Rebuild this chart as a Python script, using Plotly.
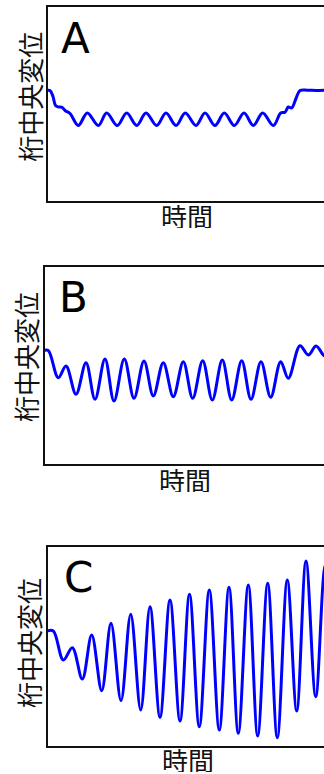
import plotly.graph_objects as go

# ---------------- data (time in arbitrary units, displacement in arbitrary units) ----------------
time_A = [0, 4, 7, 9.5, 12.5, 16, 19, 24,
          32.3, 41.3, 52.3, 60.7, 71.3, 80.7, 90.7, 100, 110.7, 120, 130, 139.3,
          150, 159, 169, 178.3, 188.3, 198, 207.3, 216.7, 227.3,
          234.7, 239, 242.3, 245.7, 250, 254, 262, 270, 280]
disp_A = [0, 0, -6, -15, -16.5, -16.8, -20, -23,
          -35, -22.5, -35, -22.5, -35, -22.5, -35, -22.5, -35, -22.5, -35, -22.5,
          -35, -22.5, -35, -22.5, -35, -22.5, -35, -22.5, -35,
          -22.5, -21.8, -16.5, -17.5, -8, 0, 0.3, 0, 0.3]

time_B = [0, 4.5, 14.5, 22.2, 32.2, 42.2, 51.2, 61.2, 70.2, 80.5, 90.2, 100.2,
          109.5, 119.5, 129.5, 139.5, 148.9, 158.9, 168.5, 178.5, 187.9, 197.9,
          207.2, 217.2, 226.9, 236.9, 244.5, 256.2, 264.5, 272.2, 279.5, 284]
disp_B = [0, 0, -27.2, -15.5, -43.8, -12.2, -48.8, -8.5, -50.5, -8.5, -47.8, -10.5,
          -45.5, -12.2, -46.2, -11.2, -47.8, -10.2, -49.5, -9.5, -49.5, -10.2,
          -48.8, -11.2, -46.8, -11.2, -27.8, 4.8, -4.5, 4.5, -4.5, -8]

time_C = [0, 6.3, 16.3, 25.3, 35.3, 44.7, 54.7, 64, 74, 83.7, 93.7, 103, 113, 123,
          133, 142.5, 152.3, 162.3, 172.3, 182, 191.3, 201.3, 210.7, 220.7, 230.3,
          240.3, 249.7, 259, 268.7, 278.5, 286]
disp_C = [0, 0, -29, -16.7, -48, -4, -59.7, 7.7, -69.7, 16.7, -79, 24.3, -86.3, 31,
          -90, 36.7, -95.7, 41, -99, 43.7, -102.3, 46, -105, 47.7, -106.7,
          51, -80, 70, -65.7, 66, 20]

panel_letters = ["A", "B", "C"]
y_label = "桁中央変位"
x_label = "時間"

# ---------------- layout geometry (pixels) ----------------
W, H = 324, 774
panels = [
    # frame line centres: left, top, bottom; data origin (x0, baseline y0)
    dict(left=46.5, top=5.5, bottom=202.0, x0=46.0, y0=90.5,
         letter=(75.5, 38.5), ylab=(29.2, 96.5), xlab=(186.5, 215.0)),
    dict(left=43.8, top=265.8, bottom=465.0, x0=43.8, y0=350.5,
         letter=(73.2, 297.3), ylab=(25.3, 356.7), xlab=(184.5, 479.0)),
    dict(left=47.0, top=545.5, bottom=746.5, x0=47.0, y0=631.0,
         letter=(78.2, 577.0), ylab=(28.7, 643.3), xlab=(187.8, 759.0)),
]
series = [(time_A, disp_A), (time_B, disp_B), (time_C, disp_C)]

LW = 2
fig = go.Figure()
annotations = []
for i, (p, (t, d), letter) in enumerate(zip(panels, series, panel_letters)):
    n = "" if i == 0 else str(i + 1)
    pl = p["left"] + LW / 2
    pt = p["top"] + LW / 2
    pb = p["bottom"] - LW / 2
    fig.add_trace(go.Scatter(x=t, y=d, mode="lines",
                             line=dict(color="#0000ff", width=3, shape="spline", smoothing=1.0),
                             xaxis="x" + n, yaxis="y" + n, showlegend=False,
                             hoverinfo="skip"))
    fig.layout["xaxis" + n] = dict(domain=[pl / W, 1], range=[pl - p["x0"], W - p["x0"]],
                                   anchor="y" + n, showline=True, mirror=True,
                                   linecolor="#111111", linewidth=LW,
                                   showgrid=False, zeroline=False, showticklabels=False,
                                   ticks="", fixedrange=True)
    fig.layout["yaxis" + n] = dict(domain=[1 - pb / H, 1 - pt / H],
                                   range=[p["y0"] - pb, p["y0"] - pt],
                                   anchor="x" + n, showline=True, mirror=False,
                                   linecolor="#111111", linewidth=LW,
                                   showgrid=False, zeroline=False, showticklabels=False,
                                   ticks="", fixedrange=True)
    annotations.append(dict(text=letter, x=p["letter"][0] / W, y=1 - p["letter"][1] / H,
                            xref="paper", yref="paper", xanchor="center", yanchor="middle",
                            showarrow=False,
                            font=dict(family="DejaVu Sans", size=42, color="black")))
    annotations.append(dict(text=y_label, x=p["ylab"][0] / W, y=1 - p["ylab"][1] / H,
                            xref="paper", yref="paper", xanchor="center", yanchor="middle",
                            textangle=-90, showarrow=False,
                            font=dict(family="Noto Sans CJK JP", size=26, color="#111111")))
    annotations.append(dict(text=x_label, x=p["xlab"][0] / W, y=1 - p["xlab"][1] / H,
                            xref="paper", yref="paper", xanchor="center", yanchor="middle",
                            height=26, valign="middle", showarrow=False,
                            font=dict(family="Noto Sans CJK JP", size=26, color="#111111")))

fig.update_layout(width=W, height=H, autosize=False,
                  margin=dict(l=0, r=0, t=0, b=0, pad=0),
                  paper_bgcolor="white", plot_bgcolor="white",
                  annotations=annotations)

fig.write_html("out.html", config={"displayModeBar": False},
               post_script="document.body.style.margin='0';document.body.style.overflow='hidden';")
